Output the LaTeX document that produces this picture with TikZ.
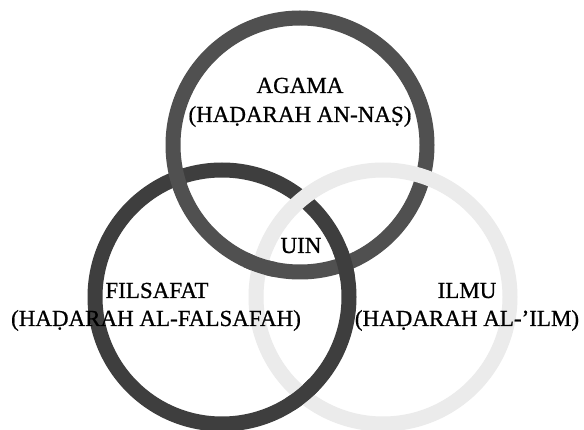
\documentclass[tikz,border=0pt]{standalone}
\usepackage{fontspec}
\setmainfont{Liberation Serif}
\newfontfamily\lblfont{Liberation Serif}[FakeBold=0.7]
\definecolor{ringL}{HTML}{3E3E3E}
\definecolor{ringT}{HTML}{505050}
\definecolor{ringR}{HTML}{EBEBEB}
\begin{document}
\begin{tikzpicture}[x=1pt,y=-1pt,
  ring/.style={line width=15pt},
  lbl/.style={font=\lblfont\fontsize{23}{28}\selectfont, inner sep=0pt, anchor=base, text=black}]
\useasboundingbox (0,0) rectangle (584,430);
\fill[white] (0,0) rectangle (584,430);
% centres
\coordinate (cT) at (300,145);
\coordinate (cL) at (222,297);
\coordinate (cR) at (383,297);
% crossings to be fixed
\coordinate (xLRbot) at (302.5,395.2);
\coordinate (xTRin) at (260,265.5);
\coordinate (xTLin) at (344.7,263.9);
% rings
\draw[ring, draw=ringL] (cL) circle [radius=127pt];
\draw[ring, draw=ringT] (cT) circle [radius=127pt];
\draw[ring, draw=ringR] (cR) circle [radius=127pt];
% interlacing
\begin{scope}
  \clip (xLRbot) circle [radius=17pt];
  \draw[ring, draw=ringL] (cL) circle [radius=127pt];
\end{scope}
\begin{scope}
  \clip (xTRin) circle [radius=17pt];
  \draw[ring, draw=ringT] (cT) circle [radius=127pt];
\end{scope}
\begin{scope}
  \clip (xTLin) circle [radius=17pt];
  \draw[ring, draw=ringL] (cL) circle [radius=127pt];
\end{scope}
% labels
\node[lbl] (agama) at (300,93) {AGAMA};
\node[lbl] (agamasub) at (300,122) {(HAḌARAH AN-NAṢ)};
\node[lbl] (uin) at (301,253) {UIN};
\node[lbl] (filsafat) at (157,298) {FILSAFAT};
\node[lbl] (filsafatsub) at (156,326) {(HAḌARAH AL-FALSAFAH)};
\node[lbl] (ilmu) at (467,298) {ILMU};
\node[lbl] (ilmusub) at (467,326) {(HAḌARAH AL-’ILM)};
\end{tikzpicture}
\end{document}
